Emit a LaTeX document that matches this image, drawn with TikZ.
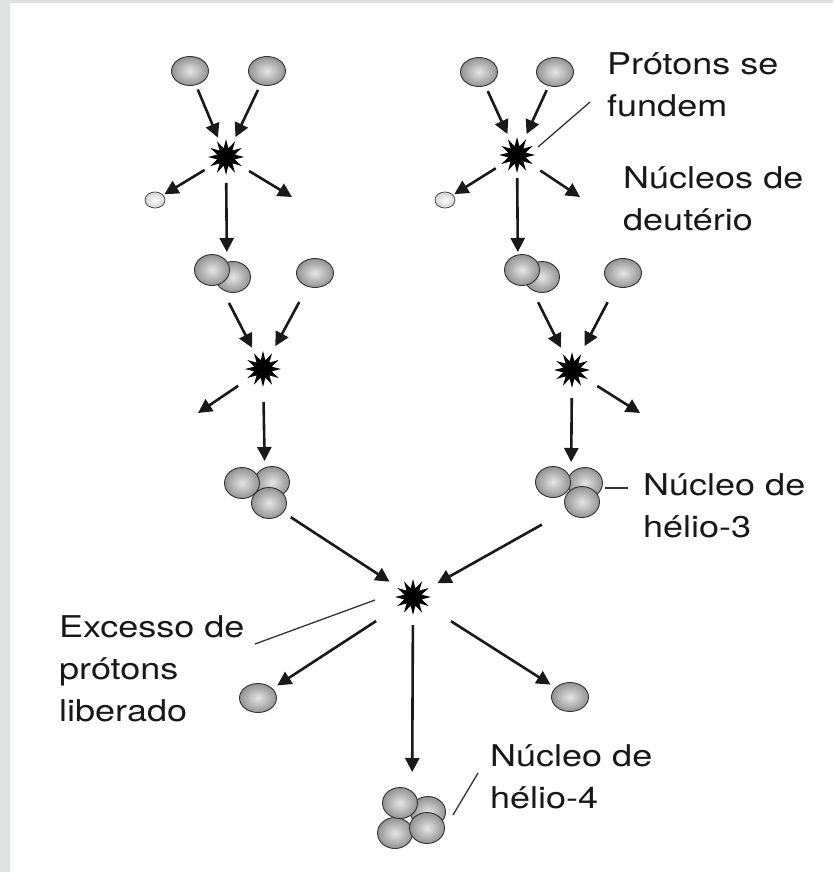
\documentclass[tikz,border=0pt]{standalone}
\usepackage{fontspec}
\setmainfont[FakeStretch=1.2]{TeX Gyre Heros}
\usetikzlibrary{positioning,shapes.geometric,arrows.meta}
\definecolor{textColor}{RGB}{24,24,24}
\definecolor{frameColor}{RGB}{224,226,225}
\tikzstyle{page} = [x=1pt, y=-1pt]
\tikzstyle{nucleonStyle} = [ellipse, draw=black!80, line width=.9pt, inner sep=0, minimum width=35pt, minimum height=31pt, shading=radial, inner color=gray!20, outer color=gray!85]
\tikzstyle{protonStyle} = [nucleonStyle, minimum width=37pt, minimum height=29pt]
\tikzstyle{positronStyle} = [ellipse, draw=black!70, line width=.8pt, inner sep=0, minimum width=20pt, minimum height=16pt, shading=radial, inner color=white, outer color=gray!35]
\tikzstyle{flashStyle} = [star, star points=12, star point ratio=2, minimum size=36pt, inner sep=0, fill=black]
\tikzstyle{reactionArrow} = [line width=2.6pt, black!90, -{Triangle[length=14pt,width=14pt]}]
\tikzstyle{leaderLine} = [line width=1.3pt, black!80]
\tikzstyle{labelText} = [font=\fontsize{30}{42}\selectfont, text=textColor, align=left, anchor=base west, inner sep=0]
\newcommand{\nucleon}[3]{\node[nucleonStyle] (#1) at (#2,#3) {};}
\newcommand{\proton}[3]{\node[protonStyle] (#1) at (#2,#3) {};}
\newcommand{\flash}[3]{\node[flashStyle] (#1) at (#2,#3) {};}
% shortening is measured from the centres
\newcommand{\react}[4]{\draw[reactionArrow, shorten <=#3pt, shorten >=#4pt] (#1.center) -- (#2.center);}

\begin{document}
\begin{tikzpicture}[page]
  \useasboundingbox (0,0) rectangle (833,872);
  \fill[frameColor] (0,0) rectangle (10,872);
  \fill[frameColor] (10,0) rectangle (833,3);

  % left chain
  \proton{pA}{190}{71}
  \proton{pB}{267}{71}
  \flash{fA}{226}{157}
  \node[positronStyle] (eA) at (155,200) {};
  \coordinate (outA) at (292,197);
  \coordinate (dA) at (227,273);
  \nucleon{dA2}{233}{277}
  \nucleon{dA1}{212}{270}
  \proton{pC}{315}{273}
  \flash{fB}{263}{369}
  \coordinate (outB) at (198,413);
  \coordinate (hA) at (265,485);
  \nucleon{hA2}{272}{482}
  \nucleon{hA1}{242}{483}
  \nucleon{hA3}{269}{503}

  \react{pA}{fA}{20}{21}
  \react{pB}{fA}{21}{22}
  \react{fA}{eA}{25}{11}
  \react{fA}{outA}{27}{0}
  \react{fA}{dA}{26}{21}
  \react{dA1}{fB}{37}{24}
  \react{pC}{fB}{33}{26}
  \react{fB}{outB}{30}{0}
  \react{fB}{hA}{33}{24}

  % right chain
  \proton{qA}{479}{72}
  \proton{qB}{555}{72}
  \flash{fD}{517}{155}
  \node[positronStyle] (eB) at (445,200) {};
  \coordinate (outD) at (580,197);
  \coordinate (dB) at (518,273);
  \nucleon{dB2}{542}{277}
  \nucleon{dB1}{522}{270}
  \proton{pD}{623}{273}
  \flash{fE}{572}{370}
  \coordinate (outE) at (640,413);
  \coordinate (hB) at (571,485);
  \nucleon{hB2}{585}{483}
  \nucleon{hB1}{553}{482}
  \nucleon{hB3}{582}{502}

  \react{qA}{fD}{21}{23}
  \react{qB}{fD}{20}{23}
  \react{fD}{eB}{25}{11}
  \react{fD}{outD}{28}{0}
  \react{fD}{dB}{23}{21}
  \react{dB1}{fE}{36}{25}
  \react{pD}{fE}{33}{27}
  \react{fE}{outE}{30}{0}
  \react{fE}{hB}{28}{23}

  % helium-3 + helium-3
  \flash{fC}{413}{597}
  \proton{pE}{258}{698}
  \proton{pF}{570}{697}
  \coordinate (kk) at (412,818);
  \nucleon{kB}{428}{812}
  \nucleon{kC}{395}{833}
  \nucleon{kA}{400}{803}
  \nucleon{kD}{427}{828}

  \react{hA3}{fC}{26}{28}
  \react{hB3}{fC}{46}{28}
  \react{fC}{pE}{44}{23}
  \react{fC}{pF}{45}{23}
  \react{fC}{kk}{28}{46}

  % labels (anchored on the last line)
  \node[labelText] (fuseLbl) at (607,117) {Prótons se\\fundem};
  \node[labelText] (deutLbl) at (623,230) {Núcleos de\\deutério};
  \node[labelText] (heThreeLbl) at (643,537) {Núcleo de\\hélio-3};
  \node[labelText] (excessLbl) at (59,721) {Excesso de\\prótons\\liberado};
  \node[labelText] (heFourLbl) at (490,808) {Núcleo de\\hélio-4};

  \coordinate (fuseFrom) at (538,147);
  \coordinate (fuseTo) at (590,102);
  \coordinate (heThreeFrom) at (605,488);
  \coordinate (heThreeTo) at (628,488);
  \coordinate (excessFrom) at (375,600);
  \coordinate (excessTo) at (255,644);
  \coordinate (heFourFrom) at (453,815);
  \coordinate (heFourTo) at (478,773);
  \draw[leaderLine] (fuseFrom) -- (fuseTo);
  \draw[leaderLine] (heThreeFrom) -- (heThreeTo);
  \draw[leaderLine] (excessFrom) -- (excessTo);
  \draw[leaderLine] (heFourFrom) -- (heFourTo);
\end{tikzpicture}
\end{document}
